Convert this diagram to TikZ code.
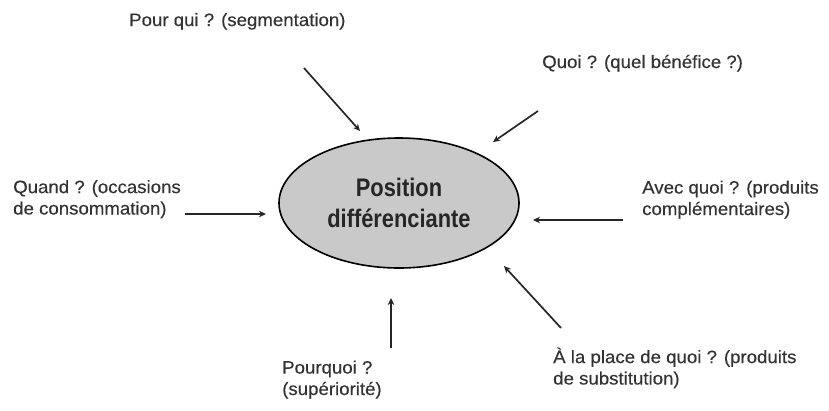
\documentclass[tikz,border=0pt]{standalone}
\usepackage{fontspec}
\setmainfont{Liberation Sans}[FakeStretch=1.04, FakeBold=0.35]
\newfontfamily\headfont{Liberation Sans}[FakeStretch=0.86]
\usetikzlibrary{shapes.geometric,arrows.meta}

\definecolor{labelgray}{rgb}{0.2,0.2,0.2}
\definecolor{ellipsefill}{rgb}{0.79,0.79,0.79}

\tikzset{
  question/.style={anchor=base west, inner sep=0pt, align=left, text=labelgray,
    font=\fontsize{18}{21.5}\selectfont},
  core/.style={ellipse, draw=black, line width=1.6bp, fill=ellipsefill,
    minimum width=240bp, minimum height=130bp, inner sep=0pt, align=center,
    font=\headfont\bfseries\fontsize{25.5}{31}\selectfont, text=black!85},
  pointer/.style={-{Stealth[length=7bp,width=6.5bp]}, line width=1.7bp, black!85}
}

\begin{document}
\begin{tikzpicture}[x=1bp,y=-1bp]
  \useasboundingbox (0,0) rectangle (829,410);

  % central ellipse
  \node[core] (pos) at (399,203) {Position\\différenciante};

  % surrounding questions (anchored on the baseline of their last line)
  \node[question] (pourqui) at (129,26) {Pour qui ? (segmentation)};
  \node[question] (quoi) at (542,68) {Quoi ? (quel bénéfice ?)};
  \node[question] (quand) at (13,214.5) {Quand ? (occasions\\de consommation)};
  \node[question] (avec) at (642,215) {Avec quoi ? (produits\\complémentaires)};
  \node[question] (pourquoi) at (282,395) {Pourquoi ?\\(supériorité)};
  \node[question] (place) at (553,384.5) {À la place de quoi ? (produits\\de substitution)};

  % arrow ends
  \coordinate (pourqui-s) at (304,68);   \coordinate (pourqui-e) at (360,131);
  \coordinate (quoi-s) at (538,111);     \coordinate (quoi-e) at (493,142);
  \coordinate (quand-s) at (185,214);    \coordinate (quand-e) at (266,214);
  \coordinate (avec-s) at (623,220);     \coordinate (avec-e) at (533,220);
  \coordinate (pourquoi-s) at (391,348); \coordinate (pourquoi-e) at (391,298);
  \coordinate (place-s) at (561,328);    \coordinate (place-e) at (504,266);

  % arrows pointing at the position
  \draw[pointer] (pourqui-s) -- (pourqui-e);
  \draw[pointer] (quoi-s) -- (quoi-e);
  \draw[pointer] (quand-s) -- (quand-e);
  \draw[pointer] (avec-s) -- (avec-e);
  \draw[pointer] (pourquoi-s) -- (pourquoi-e);
  \draw[pointer] (place-s) -- (place-e);
\end{tikzpicture}
\end{document}
